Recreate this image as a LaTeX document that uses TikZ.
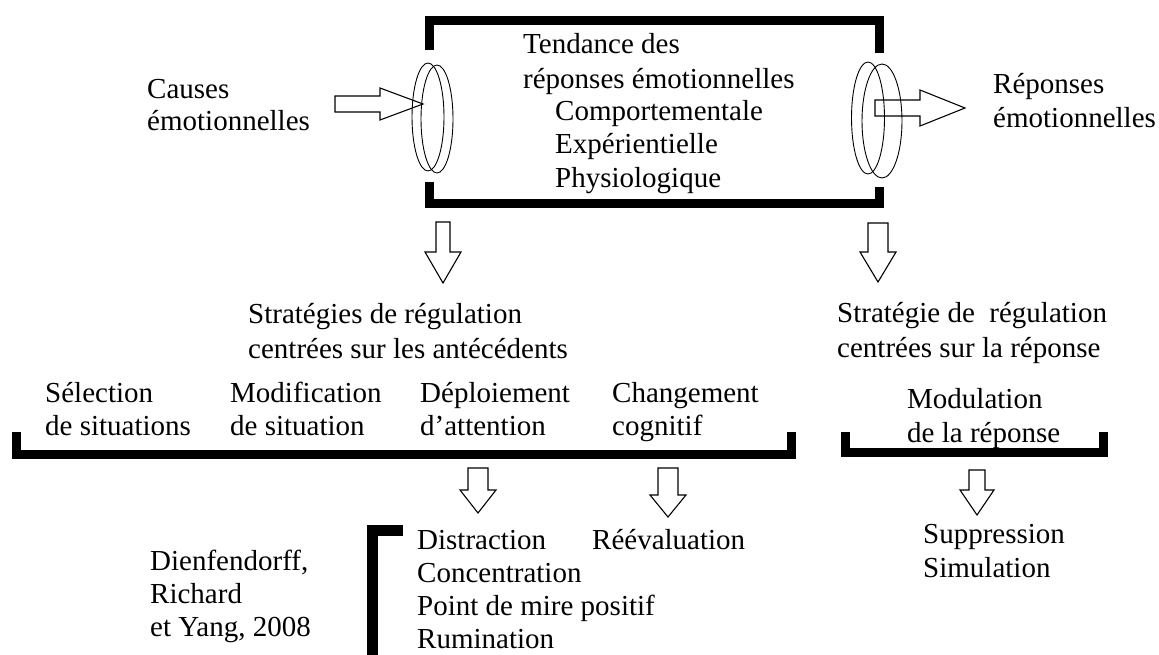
\documentclass[tikz,border=0pt]{standalone}
\usepackage{fontspec}
\setmainfont{Liberation Serif}
\newcommand\bodyfont{\fontsize{29}{33}\selectfont}
\newcommand\fl{\rule{0pt}{22pt}}
\newcommand\dblk[6]{\draw[blockarrow] (#1-#5,#2) -- (#1+#5,#2) -- (#1+#5,#3) -- (#1+#6,#3) -- (#1,#4) -- (#1-#6,#3) -- (#1-#5,#3) -- cycle;}
\newcommand\rblk[6]{\draw[blockarrow] (#1,#4-#5) -- (#2,#4-#5) -- (#2,#4-#6) -- (#3,#4) -- (#2,#4+#6) -- (#2,#4+#5) -- (#1,#4+#5) -- cycle;}
\tikzset{
  txt/.style={font=\bodyfont, align=left, inner sep=0pt, anchor=north west, text=black},
  thickbar/.style={line width=9pt, line cap=butt, line join=miter},
  blockarrow/.style={draw=black, line width=1.1pt, line join=miter},
  ring/.style={draw=black, line width=0.9pt}
}
\begin{document}
\begin{tikzpicture}[x=1pt,y=-1pt]
\useasboundingbox[fill=white] (0,0) rectangle (1159,655);

% top box
\draw[thickbar] (429,50) -- (429,21) -- (879,21) -- (879,53);
\draw[thickbar] (429,182) -- (429,204) -- (879,204) -- (879,187);

% rings
\draw[ring] (428,117) ellipse [x radius=16, y radius=54];
\draw[ring] (437,119) ellipse [x radius=16, y radius=54];
\draw[ring] (868,118) ellipse [x radius=16.5, y radius=56];
\draw[ring] (882,121) ellipse [x radius=20, y radius=57];

% horizontal arrows
\rblk{335}{380}{423}{104}{8}{16}
\rblk{875}{920}{965}{108}{8}{18}

% texts top
\node[txt] (causes) at (147,76) {\fl Causes\\[-1pt]émotionnelles};
\node[txt] (tend) at (523,31) {\fl Tendance des\\[2pt]réponses émotionnelles};
\node[txt] (types) at (555,98) {\fl Comportementale\\Expérientielle\\[1pt]Physiologique};
\node[txt] (rep) at (993,71) {\fl Réponses\\[1pt]émotionnelles};

% down arrows from box
\dblk{443}{222}{252}{283}{7}{18}
\dblk{878}{223}{252}{282}{10}{18}

\node[txt] (strat1) at (248,301) {\fl Stratégies de régulation\\[2pt]centrées sur les antécédents};
\node[txt] (strat2) at (837,300) {\fl Stratégie de\ \ régulation\\[2pt]centrées sur la réponse};

% lower row
\node[txt] (sel) at (45,380) {\fl Sélection\\de situations};
\node[txt] (modif) at (230,380) {\fl Modification\\de situation};
\node[txt] (depl) at (420,380) {\fl Déploiement\\d’attention};
\node[txt] (chg) at (612,380) {\fl Changement\\cognitif};
\node[txt] (modu) at (907,386) {\fl Modulation\\[1pt]de la réponse};

\draw[thickbar] (16,432) -- (16,454) -- (791,454) -- (791,432);
\draw[thickbar] (845,432) -- (845,452) -- (1103,452) -- (1103,432);

% lower arrows
\dblk{478}{468}{490}{513}{10}{18}
\dblk{668}{468}{495}{517}{10}{18}
\dblk{977}{470}{490}{515}{8}{17}

% bottom texts
\node[txt] (ref) at (150,548) {\fl Dienfendorff,\\Richard\\et Yang, 2008};
\draw[line width=11pt, line cap=butt, line join=miter] (372,655) -- (372,530) -- (403,530);
\node[txt] (att) at (417,527) {\fl Distraction\\Concentration\\Point de mire positif\\Rumination};
\node[txt] (reev) at (592,527) {\fl Réévaluation};
\node[txt] (sup) at (923,521) {\fl Suppression\\[1pt]Simulation};
\end{tikzpicture}
\end{document}
